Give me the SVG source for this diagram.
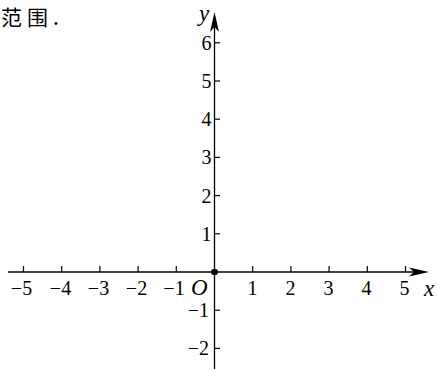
<svg xmlns="http://www.w3.org/2000/svg" width="438" height="369" viewBox="0 0 438 369">
<style>
.ax{stroke:#000;stroke-width:1.3;fill:none}
.tk{stroke:#000;stroke-width:1.2}
.n{font-family:"Liberation Serif","Times New Roman",serif;font-size:20px;fill:#000}
.c{text-anchor:middle}
.e{text-anchor:end}
.v{font-family:"Liberation Serif","Times New Roman",serif;font-style:italic;font-size:23px;fill:#000}
.cjk{font-family:"Noto Sans CJK SC","Noto Sans CJK JP",sans-serif;font-size:21px;letter-spacing:5px;fill:#000}
</style>
<defs>
<path id="ah" d="M0,0 L-4.5,20 L0,15 L4.5,20 Z" fill="#000"/>
</defs>
<text class="cjk" x="1" y="24.5">范围.</text>
<g id="connectors">
<line class="ax" x1="8" y1="272" x2="420" y2="272"/>
<line class="ax" x1="214.5" y1="369" x2="214.5" y2="22"/>
<use href="#ah" transform="translate(214.5,12)"/>
<use href="#ah" transform="translate(429,272) rotate(90)"/>
</g>
<g id="xticks">
<line class="tk" x1="23.5" y1="266" x2="23.5" y2="272"/>
<line class="tk" x1="61.7" y1="266" x2="61.7" y2="272"/>
<line class="tk" x1="99.9" y1="266" x2="99.9" y2="272"/>
<line class="tk" x1="138.1" y1="266" x2="138.1" y2="272"/>
<line class="tk" x1="176.3" y1="266" x2="176.3" y2="272"/>
<line class="tk" x1="252.7" y1="266" x2="252.7" y2="272"/>
<line class="tk" x1="290.9" y1="266" x2="290.9" y2="272"/>
<line class="tk" x1="329.1" y1="266" x2="329.1" y2="272"/>
<line class="tk" x1="367.3" y1="266" x2="367.3" y2="272"/>
<line class="tk" x1="405.5" y1="266" x2="405.5" y2="272"/>
</g>
<g id="yticks">
<line class="tk" x1="214.5" y1="233.8" x2="220" y2="233.8"/>
<line class="tk" x1="214.5" y1="195.6" x2="220" y2="195.6"/>
<line class="tk" x1="214.5" y1="157.4" x2="220" y2="157.4"/>
<line class="tk" x1="214.5" y1="119.2" x2="220" y2="119.2"/>
<line class="tk" x1="214.5" y1="81" x2="220" y2="81"/>
<line class="tk" x1="214.5" y1="42.8" x2="220" y2="42.8"/>
<line class="tk" x1="214.5" y1="310.2" x2="220" y2="310.2"/>
<line class="tk" x1="214.5" y1="348.4" x2="220" y2="348.4"/>
</g>
<g id="origin">
<circle cx="214.5" cy="272" r="3.3" fill="#000"/>
<text class="v" x="191" y="295">O</text>
</g>
<g id="xlabels">
<text class="n c" x="21.5" y="295">−5</text>
<text class="n c" x="60.5" y="295">−4</text>
<text class="n c" x="98.5" y="295">−3</text>
<text class="n c" x="136.5" y="295">−2</text>
<text class="n c" x="174" y="295">−1</text>
<text class="n c" x="252.5" y="295">1</text>
<text class="n c" x="290.5" y="295">2</text>
<text class="n c" x="328.5" y="295">3</text>
<text class="n c" x="366.5" y="295">4</text>
<text class="n c" x="404.5" y="295">5</text>
<text class="v" x="424" y="296">x</text>
</g>
<g id="ylabels">
<text class="n e" x="211.5" y="240.8">1</text>
<text class="n e" x="211.5" y="202.6">2</text>
<text class="n e" x="211.5" y="164.4">3</text>
<text class="n e" x="211.5" y="126.2">4</text>
<text class="n e" x="211.5" y="88">5</text>
<text class="n e" x="211.5" y="49.8">6</text>
<text class="n e" x="209" y="317.2">−1</text>
<text class="n e" x="209" y="355.4">−2</text>
<text class="v" x="199" y="21">y</text>
</g>
</svg>
